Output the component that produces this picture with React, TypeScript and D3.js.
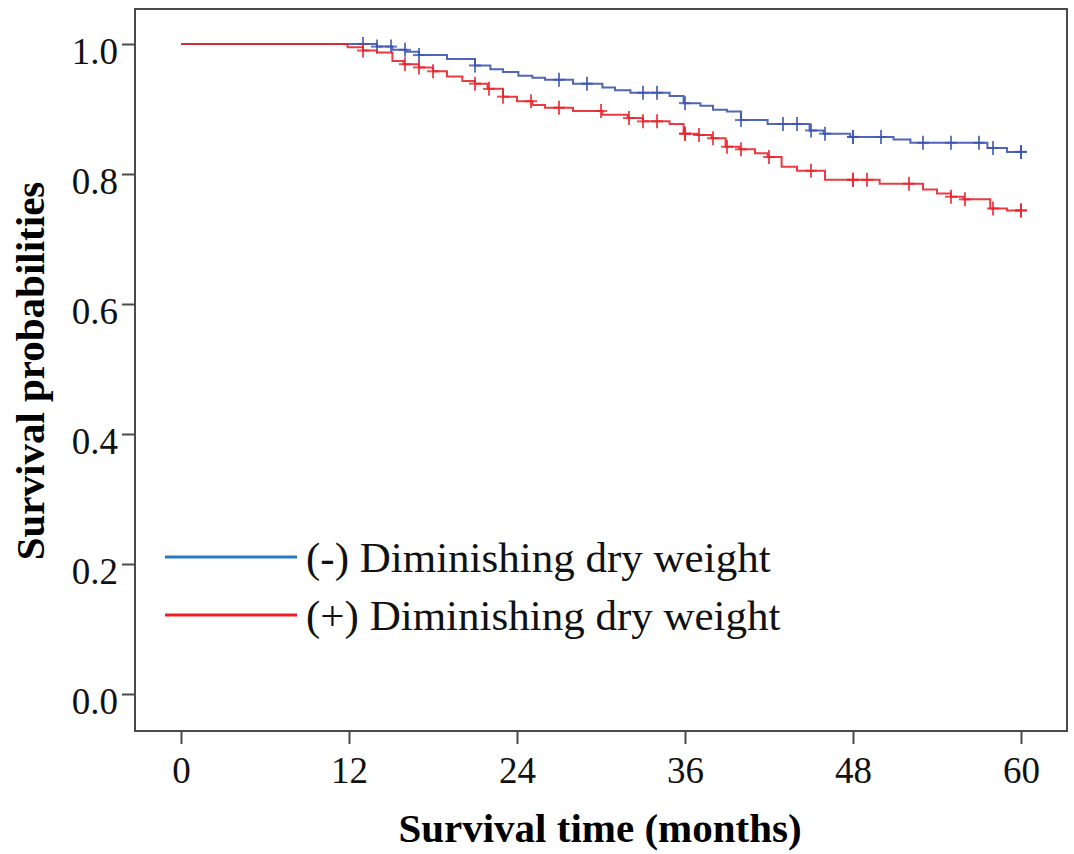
import { useRef, useEffect } from 'react';
import * as d3 from 'd3';

// Kaplan-Meier steps: [month, survival after the drop]
const negSteps: [number, number][] = [
  [14.0, 0.996], [15.1, 0.991], [16.1, 0.988], [17.0, 0.983], [19.0, 0.977],
  [21.0, 0.967], [22.1, 0.961], [23.0, 0.957], [24.1, 0.951], [25.1, 0.948],
  [26.0, 0.945], [28.0, 0.939], [30.1, 0.933], [31.0, 0.929], [32.1, 0.925],
  [34.9, 0.920], [35.9, 0.909], [37.1, 0.905], [38.0, 0.899], [39.0, 0.896],
  [40.0, 0.883], [41.9, 0.877], [44.9, 0.867], [45.9, 0.862], [47.8, 0.857],
  [50.9, 0.853], [52.1, 0.848], [57.6, 0.840], [59.0, 0.834]
];
const posSteps: [number, number][] = [
  [11.9, 0.995], [13.0, 0.990], [14.0, 0.987], [15.1, 0.974], [15.9, 0.969],
  [17.0, 0.964], [18.0, 0.958], [19.0, 0.950], [20.1, 0.943], [21.0, 0.939],
  [21.9, 0.931], [23.0, 0.919], [24.0, 0.912], [25.1, 0.906], [26.0, 0.902],
  [28.0, 0.897], [30.1, 0.891], [31.9, 0.886], [33.0, 0.881], [34.9, 0.877],
  [35.9, 0.862], [36.9, 0.860], [37.9, 0.855], [38.9, 0.842], [39.9, 0.838],
  [41.0, 0.832], [41.9, 0.826], [42.9, 0.811], [44.0, 0.805], [46.0, 0.791],
  [49.9, 0.785], [53.0, 0.776], [54.0, 0.770], [55.0, 0.765], [55.9, 0.761],
  [57.8, 0.747], [59.0, 0.744]
];
// censored observations (months)
const negCensor = [13, 14, 15, 16, 17, 21, 27, 29, 33, 34, 36, 40, 43, 44, 45, 46, 48, 48, 50, 53, 55, 57, 58, 60, 60];
const posCensor = [13, 16, 17, 18, 21, 22, 23, 25, 27, 30, 32, 33, 34, 36, 36, 37, 38, 39, 40, 42, 45, 48, 48, 49, 52, 55, 56, 58, 60, 60];

const xTicks = [0, 12, 24, 36, 48, 60];
const yTicks = [0, 0.2, 0.4, 0.6, 0.8, 1.0];
const seriesNames = ['(-) Diminishing dry weight', '(+) Diminishing dry weight'];

export default function App() {
  const ref = useRef<SVGSVGElement>(null);

  useEffect(() => {
    document.body.style.margin = '0';
    const width = 1074;
    const height = 854;
    const svg = d3.select(ref.current)
      .attr('width', width)
      .attr('height', height);
    svg.selectAll('*').remove();

    const font = '"Liberation Serif", "Times New Roman", serif';
    const frame = { left: 135, top: 9, right: 1067, bottom: 731 };

    const x = d3.scaleLinear().domain([0, 60]).range([181, 1021]);
    const y = d3.scaleLinear().domain([0, 1]).range([694, 44]);

    svg.append('rect')
      .attr('x', frame.left).attr('y', frame.top)
      .attr('width', frame.right - frame.left)
      .attr('height', frame.bottom - frame.top)
      .attr('fill', 'white')
      .attr('stroke', '#4a4a4a')
      .attr('stroke-width', 2);

    // y axis
    const yAxis = svg.append('g')
      .attr('transform', `translate(${frame.left},0)`)
      .call(d3.axisLeft(y).tickValues(yTicks).tickFormat(d3.format('.1f')).tickSize(13).tickPadding(4));
    yAxis.select('.domain').remove();
    yAxis.selectAll('line').attr('stroke', '#4a4a4a').attr('stroke-width', 2);
    yAxis.selectAll('text')
      .attr('font-family', font).attr('font-size', 37).attr('fill', '#111')
      .attr('dy', 19);

    // x axis
    const xAxis = svg.append('g')
      .attr('transform', `translate(0,${frame.bottom})`)
      .call(d3.axisBottom(x).tickValues(xTicks).tickSize(13).tickPadding(0));
    xAxis.select('.domain').remove();
    xAxis.selectAll('line').attr('stroke', '#4a4a4a').attr('stroke-width', 2);
    xAxis.selectAll('text')
      .attr('font-family', font).attr('font-size', 37).attr('fill', '#111')
      .attr('y', 52).attr('dy', 0);

    svg.append('text')
      .attr('x', 600).attr('y', 842)
      .attr('text-anchor', 'middle')
      .attr('font-family', font).attr('font-size', 41).attr('font-weight', 'bold')
      .text('Survival time (months)');

    svg.append('text')
      .attr('transform', 'translate(44,371) rotate(-90)')
      .attr('text-anchor', 'middle')
      .attr('font-family', font).attr('font-size', 41).attr('font-weight', 'bold')
      .text('Survival probabilities');

    const line = d3.line<[number, number]>()
      .x(d => x(d[0]))
      .y(d => y(d[1]))
      .curve(d3.curveStepAfter);

    const drawCurve = (steps: [number, number][], censor: number[], color: string) => {
      const pts: [number, number][] = [[0, 1], ...steps, [60, steps[steps.length - 1][1]]];
      svg.append('path')
        .attr('d', line(pts))
        .attr('fill', 'none')
        .attr('stroke', color)
        .attr('stroke-width', 2)
        .attr('stroke-opacity', 0.9);
      const survAt = (t: number) => {
        let s = 1;
        for (const [st, sv] of steps) if (st <= t + 0.05) s = sv;
        return s;
      };
      const g = svg.append('g').attr('stroke', color).attr('stroke-width', 2).attr('stroke-opacity', 0.8);
      censor.forEach(t => {
        const cx = x(t);
        const cy = y(survAt(t));
        g.append('line').attr('x1', cx).attr('x2', cx).attr('y1', cy - 7).attr('y2', cy + 7);
        g.append('line').attr('x1', cx - 6).attr('x2', cx + 6).attr('y1', cy).attr('y2', cy);
      });
    };

    drawCurve(negSteps, negCensor, '#3c55b2');
    drawCurve(posSteps, posCensor, '#e8262d');

    // legend
    const legendColors = ['#2a78c2', '#ee1c24'];
    seriesNames.forEach((name, i) => {
      const ly = 557 + i * 58;
      svg.append('line')
        .attr('x1', 165).attr('x2', 297).attr('y1', ly).attr('y2', ly)
        .attr('stroke', legendColors[i]).attr('stroke-width', 3);
      svg.append('text')
        .attr('x', 306).attr('y', ly + 15)
        .attr('font-family', font).attr('font-size', 43).attr('fill', '#111')
        .text(name);
    });
  }, []);

  return <svg ref={ref} style={{ display: 'block' }}></svg>;
}
